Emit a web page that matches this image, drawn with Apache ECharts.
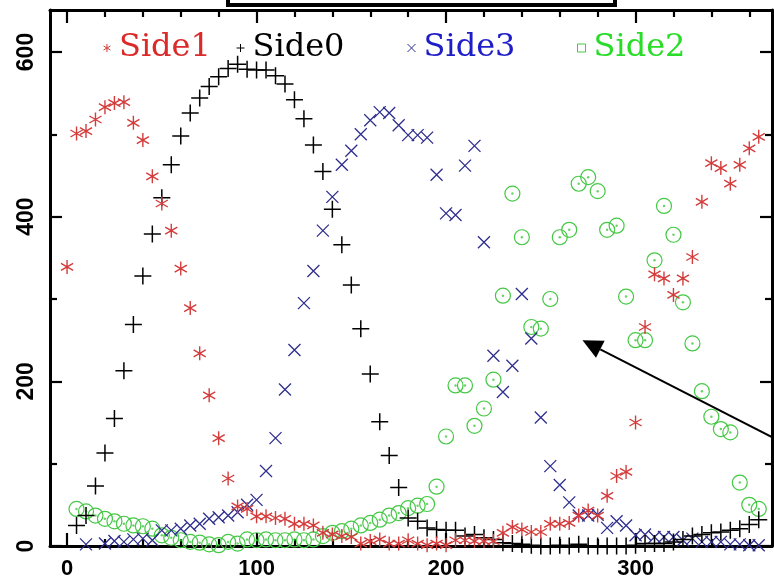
<!DOCTYPE html>
<html>
<head>
<meta charset="utf-8">
<script src="https://cdn.jsdelivr.net/npm/echarts@6/dist/echarts.min.js"></script>
<style>
  html, body { margin: 0; padding: 0; background: #fff; }
  #chart { width: 774px; height: 580px; }
</style>
</head>
<body>
<div id="chart"></div>
<script>
// Sampling positions shared by all four sides
const xs = [0, 5, 10, 15, 20, 25, 30, 35, 40, 45, 50, 55, 60, 65, 70, 75, 80, 85, 90, 95,
  100, 105, 110, 115, 120, 125, 130, 135, 140, 145, 150, 155, 160, 165, 170, 175, 180, 185, 190, 195,
  200, 205, 210, 215, 220, 225, 230, 235, 240, 245, 250, 255, 260, 265, 270, 275, 280, 285, 290, 295,
  300, 305, 310, 315, 320, 325, 330, 335, 340, 345, 350, 355, 360, 365];

const side1 = [339, 501, 504, 518, 533, 538, 539, 514, 493, 449, 416, 383, 337, 289, 234, 183, 131, 82, 48, 45,
  36, 36, 34, 33, 27, 27, 25, 16, 14, 12, 11, 3, 6, 8, 3, 3, 7, 3, 1, 3,
  1, 7, 7, 6, 6, 6, 16, 23, 20, 17, 17, 27, 27, 28, 37, 43, 37, 61, 85, 90,
  150, 266, 330, 325, 305, 325, 351, 418, 465, 459, 440, 463, 483, 497];

const side0 = [null, 25, 37, 73, 113, 155, 213, 269, 328, 379, 423, 463, 498, 526, 544, 558, 570, 580, 585, 579,
  578, 578, 571, 561, 542, 519, 487, 455, 409, 366, 317, 264, 209, 151, 110, 71, 34, 30, 22, 20,
  19, 19, 12, 14, 10, 8, 4, 3, 2, 1, 0, 0, 1, 0, 2, 0, 0, 0, 0, 0,
  1, 3, 3, 3, 5, 8, 12, 14, 16, 17, 19, 21, 26, 32];

const side3 = [null, null, 2, null, 3, 6, 5, 8, 9, 7, 19, 19, 21, 25, 27, 33, 35, 37, 41, 50,
  56, 91, 131, 190, 238, 295, 334, 383, 424, 463, 480, 500, 517, 527, 526, 511, 499, 499, 496, 451,
  404, 402, 462, 486, 369, 231, 187, 219, 306, 252, 156, 97, 74, 53, 37, 37, 38, 22, 30, 25,
  13, 14, 11, 11, 11, 7, 9, 5, 5, 5, 2, 2, 1, 1];

const side2 = [null, 45, 42, 37, 33, 30, 27, 25, 24, 21, 13, 10, 7, 5, 4, 2, 1, 5, 3, 8,
  7, 8, 7, 7, 8, 7, 8, 12, 16, 18, 21, 25, 28, 32, 37, 40, 46, 49, 51, 72,
  133, 195, 195, 146, 167, 202, 304, 428, 375, 266, 264, 300, 375, 384, 440, 448, 431, 384, 389, 303,
  250, 250, 347, 413, 378, 296, 246, 188, 157, 142, 138, 77, 50, 45];

// Axis ticks and labels
const xMajorTicks = [0, 100, 200, 300];
const xMinorTicks = [20, 40, 60, 80, 120, 140, 160, 180, 220, 240, 260, 280, 320, 340, 360];
const yMajorTicks = [0, 200, 400, 600];
const yMinorTicks = [100, 300, 500];

// Annotation arrow (tail, head) in data units
const arrowTail = [373, 131];
const arrowHead = [272, 250];

const X_MIN = -9, X_MAX = 372, Y_MIN = 0, Y_MAX = 651;

const RED = '#d43c3c', BLACK = '#000000', BLUE = '#2e2e8e', GREEN = '#45c845';

function points(vals) {
  return xs.map((x, i) => [x, vals[i]]).filter(p => p[1] !== null);
}

const STAR = 'path://M5,0L5,10M0.67,2.5L9.33,7.5M0.67,7.5L9.33,2.5';
const PLUS = 'path://M0,5L10,5M5,0L5,10';
const CROSS = 'path://M0,0L10,10M0,10L10,0';

function strokeStyle(c, w) {
  return { color: 'rgba(0,0,0,0)', borderColor: c, borderWidth: w, opacity: 1 };
}

function xAxisDef(position, ticks, len, withLine, withLabels) {
  return {
    type: 'value', position: position, min: X_MIN, max: X_MAX,
    axisLine: { show: withLine, onZero: false, lineStyle: { color: '#000', width: 3 } },
    axisTick: { show: true, inside: true, length: len, customValues: ticks, lineStyle: { color: '#000', width: 2.2 } },
    axisLabel: withLabels ? {
      show: true, customValues: ticks, margin: 12, color: '#000',
      fontFamily: 'Liberation Sans', fontWeight: 'bold', fontSize: 22
    } : { show: false },
    splitLine: { show: false }, minorTick: { show: false }
  };
}

function yAxisDef(position, ticks, len, withLine, withLabels) {
  return {
    type: 'value', position: position, min: Y_MIN, max: Y_MAX,
    axisLine: { show: withLine, onZero: false, lineStyle: { color: '#000', width: 3 } },
    axisTick: { show: true, inside: true, length: len, customValues: ticks, lineStyle: { color: '#000', width: 2.2 } },
    axisLabel: withLabels ? {
      show: true, customValues: ticks, rotate: 90, margin: 12, color: '#000',
      fontFamily: 'Liberation Sans', fontWeight: 'bold', fontSize: 23
    } : { show: false },
    splitLine: { show: false }, minorTick: { show: false }
  };
}

function legendDef(name, left, color, icon, itemStyle) {
  return {
    data: [{ name: name, icon: icon, itemStyle: itemStyle }],
    left: left, top: 27, itemWidth: 8, itemHeight: 8, selectedMode: false,
    textStyle: { fontFamily: 'DejaVu Serif', fontSize: 32, color: color, padding: [0, 0, 0, 3] }
  };
}

const chart = echarts.init(document.getElementById('chart'), null, { renderer: 'canvas' });

chart.setOption({
  backgroundColor: '#ffffff',
  animation: false,
  grid: { left: 50, right: 2, top: 10, bottom: 29, containLabel: false },
  xAxis: [
    xAxisDef('bottom', xMajorTicks, 13, true, true),
    xAxisDef('bottom', xMinorTicks, 7, false, false),
    xAxisDef('top', xMajorTicks, 13, true, false),
    xAxisDef('top', xMinorTicks, 7, false, false)
  ],
  yAxis: [
    yAxisDef('left', yMajorTicks, 12, true, true),
    yAxisDef('left', yMinorTicks, 7, false, false),
    yAxisDef('right', yMajorTicks, 12, true, false),
    yAxisDef('right', yMinorTicks, 7, false, false)
  ],
  legend: [
    legendDef('Side1', 98, '#dc2a2a', STAR, strokeStyle(RED, 1)),
    legendDef('Side0', 231, '#000000', PLUS, strokeStyle(BLACK, 1)),
    legendDef('Side3', 402, '#1e1ec8', CROSS, strokeStyle(BLUE, 1)),
    legendDef('Side2', 572, '#28dc28', 'rect', strokeStyle(GREEN, 1))
  ],
  series: [
    {
      name: 'Side2', type: 'scatter', data: points(side2),
      symbol: 'circle', symbolSize: 15, itemStyle: strokeStyle(GREEN, 1.2),
      emphasis: { disabled: true }, z: 2
    },
    {
      name: 'Side2 centre', type: 'scatter', data: points(side2),
      symbol: 'circle', symbolSize: 2.5, itemStyle: { color: GREEN },
      emphasis: { disabled: true }, z: 2
    },
    {
      name: 'Side3', type: 'scatter', data: points(side3),
      symbol: CROSS, symbolSize: 12, itemStyle: strokeStyle(BLUE, 1.3),
      emphasis: { disabled: true }, z: 3
    },
    {
      name: 'Side0', type: 'scatter', data: points(side0),
      symbol: PLUS, symbolSize: 17, itemStyle: strokeStyle(BLACK, 1.5),
      emphasis: { disabled: true }, z: 4
    },
    {
      name: 'Side1', type: 'scatter', data: points(side1),
      symbol: STAR, symbolSize: 14, symbolKeepAspect: true, itemStyle: strokeStyle(RED, 1.4),
      emphasis: { disabled: true }, z: 5
    }
  ]
});

// Annotation arrow and the heading box above the frame
const tail = chart.convertToPixel({ xAxisIndex: 0, yAxisIndex: 0 }, arrowTail);
const tip = chart.convertToPixel({ xAxisIndex: 0, yAxisIndex: 0 }, arrowHead);
const dx = tip[0] - tail[0], dy = tip[1] - tail[1];
const len = Math.sqrt(dx * dx + dy * dy);
const ux = dx / len, uy = dy / len;
const headLen = 20, headHalf = 9.5;
const base = [tip[0] - ux * headLen, tip[1] - uy * headLen];

chart.setOption({
  graphic: [
    {
      type: 'line', z: 100,
      shape: { x1: tail[0], y1: tail[1], x2: base[0], y2: base[1] },
      style: { stroke: '#000', lineWidth: 2 }
    },
    {
      type: 'polygon', z: 100,
      shape: { points: [tip, [base[0] - uy * headHalf, base[1] + ux * headHalf], [base[0] + uy * headHalf, base[1] - ux * headHalf]] },
      style: { fill: '#000' }
    },
    {
      type: 'rect', z: 100,
      shape: { x: 228, y: -12, width: 387, height: 17 },
      style: { fill: '#fff', stroke: '#000', lineWidth: 4 }
    }
  ]
});
</script>
</body>
</html>
